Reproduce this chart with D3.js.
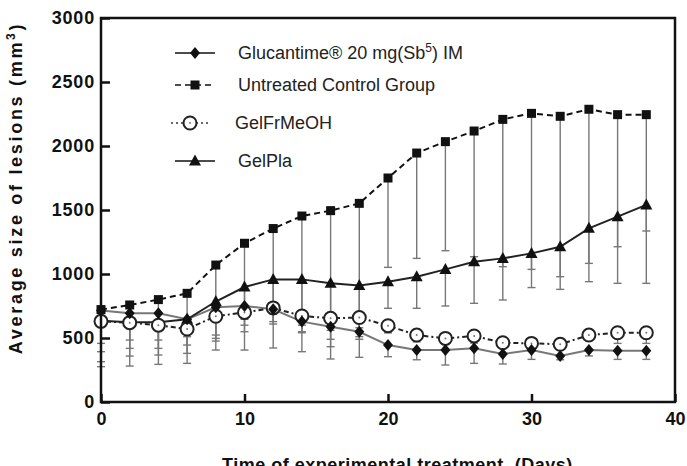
<!DOCTYPE html>
<html>
<head>
<meta charset="utf-8">
<script src="https://cdn.jsdelivr.net/npm/d3@7"></script>
<style>
  body { margin: 0; background: #fff; }
  text { font-family: 'Liberation Sans', Arial, sans-serif; }
</style>
</head>
<body>
<div class="chart-container"></div>
<script>
// days of treatment
const days = [0, 2, 4, 6, 8, 10, 12, 14, 16, 18, 20, 22, 24, 26, 28, 30, 32, 34, 36, 38];

// mean lesion size and lower end of error bar, per group
const glucantime    = [715, 693, 693, 646, 740, 750, 724, 628, 588, 549, 445, 406, 406, 419, 375, 406, 359, 406, 401, 401];
const glucantimeLow = [393, 419, 419, 445, 523, 646, 628, 549, 490, 510, 354, 330, 289, 302, 297, 333, 330, 360, 333, 333];

const control    = [722, 758, 800, 849, 1070, 1240, 1355, 1453, 1495, 1552, 1750, 1945, 2034, 2117, 2208, 2255, 2232, 2287, 2245, 2245];
const controlLow = [276, 281, 294, 302, 406, 406, 422, 393, 336, 349, 1052, 1122, 1182, 1135, 1057, 1036, 979, 1083, 1213, 1336];

const gelFrMeOH    = [630, 620, 600, 570, 670, 700, 735, 672, 654, 660, 596, 523, 497, 516, 463, 458, 451, 523, 541, 541];
const gelFrMeOHLow = [458, 484, 484, 510, 497, 600, 690, 600, 560, 580, 540, 470, 450, 460, 420, 420, 410, 480, 458, 458];

const gelPla    = [635, 623, 623, 646, 785, 898, 958, 958, 927, 910, 940, 979, 1036, 1096, 1122, 1161, 1213, 1357, 1448, 1540];
const gelPlaLow = [315, 359, 367, 380, 476, 549, 609, 541, 432, 490, 732, 732, 750, 771, 797, 894, 880, 940, 927, 927];

const xTicks = [0, 10, 20, 30, 40];
const yTicks = [0, 500, 1000, 1500, 2000, 2500, 3000];

const width = 687, height = 466;
const margin = { top: 18, right: 12, bottom: 64, left: 101 };

const svg = d3.select('.chart-container').append('svg')
    .attr('width', width)
    .attr('height', height);

const x = d3.scaleLinear().domain([0, 40]).range([margin.left, width - margin.right]);
const y = d3.scaleLinear().domain([0, 3000]).range([height - margin.bottom, margin.top]);

const groups = [
    { name: 'glucantime', mean: glucantime, low: glucantimeLow, marker: 'diamond', color: '#777', legendColor: '#111', dash: null },
    { name: 'control', mean: control, low: controlLow, marker: 'square', color: '#111', legendColor: '#111', dash: '6,4' },
    { name: 'gelFrMeOH', mean: gelFrMeOH, low: gelFrMeOHLow, marker: 'circle', color: '#222', legendColor: '#333', dash: '2,3,5,3' },
    { name: 'gelPla', mean: gelPla, low: gelPlaLow, marker: 'triangle', color: '#222', legendColor: '#111', dash: null }
];

// error bars (lower side)
const bars = svg.append('g').attr('stroke', '#777').attr('stroke-width', 1.4);
groups.forEach(g => {
    days.forEach((d, i) => {
        bars.append('line')
            .attr('x1', x(d)).attr('x2', x(d))
            .attr('y1', y(g.mean[i])).attr('y2', y(g.low[i]));
        bars.append('line')
            .attr('x1', x(d) - 4).attr('x2', x(d) + 4)
            .attr('y1', y(g.low[i])).attr('y2', y(g.low[i]));
    });
});

// lines
const line = d3.line().x((d, i) => x(days[i])).y(d => y(d));
groups.forEach(g => {
    svg.append('path')
        .datum(g.mean)
        .attr('fill', 'none')
        .attr('stroke', g.color)
        .attr('stroke-width', 2)
        .attr('stroke-dasharray', g.dash)
        .attr('d', line);
});

function drawMarker(sel, type, cx, cy) {
    if (type === 'diamond') {
        sel.append('path').attr('d', `M${cx},${cy - 6}L${cx + 5},${cy}L${cx},${cy + 6}L${cx - 5},${cy}Z`).attr('fill', '#111');
    } else if (type === 'square') {
        sel.append('rect').attr('x', cx - 4.5).attr('y', cy - 4.5).attr('width', 9).attr('height', 9).attr('fill', '#111');
    } else if (type === 'triangle') {
        sel.append('path').attr('d', `M${cx},${cy - 6.5}L${cx + 6},${cy + 4.5}L${cx - 6},${cy + 4.5}Z`).attr('fill', '#111');
    } else {
        sel.append('circle').attr('cx', cx).attr('cy', cy).attr('r', 6.5)
            .attr('fill', '#fff').attr('stroke', '#222').attr('stroke-width', 2);
        sel.append('circle').attr('cx', cx).attr('cy', cy).attr('r', 1).attr('fill', '#777');
    }
}

// markers, circles drawn under the diamonds like the original
const markerOrder = [groups[1], groups[3], groups[2], groups[0]];
markerOrder.forEach(g => {
    const gm = svg.append('g');
    days.forEach((d, i) => drawMarker(gm, g.marker, x(d), y(g.mean[i])));
});

// axes with inward ticks
const xAxis = d3.axisBottom(x).tickValues(xTicks).tickFormat(d3.format('d')).tickSizeInner(-8).tickSizeOuter(0).tickPadding(10);
const yAxis = d3.axisLeft(y).tickValues(yTicks).tickFormat(d3.format('d')).tickSizeInner(-9).tickSizeOuter(0).tickPadding(6);

const gx = svg.append('g').attr('transform', `translate(0,${height - margin.bottom})`).call(xAxis);
const gy = svg.append('g').attr('transform', `translate(${margin.left},0)`).call(yAxis);
[gx, gy].forEach(g => {
    g.select('.domain').remove();
    g.selectAll('.tick line').attr('stroke', '#111').attr('stroke-width', 2.5);
    g.selectAll('.tick text')
        .attr('fill', '#111')
        .attr('font-size', 18)
        .attr('font-weight', 'bold')
        .style('font-family', "'Liberation Sans', Arial, sans-serif");
});
gy.selectAll('.tick text').attr('letter-spacing', 0.8);

// frame
svg.append('rect')
    .attr('x', x(0)).attr('y', y(3000))
    .attr('width', x(40) - x(0)).attr('height', y(0) - y(3000))
    .attr('fill', 'none').attr('stroke', '#111').attr('stroke-width', 2.5);

// axis titles
const yTitle = svg.append('text')
    .attr('transform', `translate(22,${(y(0) + y(3000)) / 2 - 22}) rotate(-90)`)
    .attr('text-anchor', 'middle')
    .attr('font-size', 18).attr('font-weight', 'bold')
    .attr('letter-spacing', 2.7)
    .attr('fill', '#111');
yTitle.append('tspan').text('Average size of lesions (mm');
yTitle.append('tspan').text('3').attr('font-size', 12).attr('baseline-shift', 'super');
yTitle.append('tspan').text(')');

svg.append('text')
    .attr('x', 222).attr('y', 471)
    .attr('font-size', 18).attr('font-weight', 'bold')
    .attr('letter-spacing', 0.5)
    .attr('fill', '#111')
    .attr('xml:space', 'preserve')
    .text('Time of experimental treatment  (Days)');

// legend
const legendRows = [53, 85, 123, 161];
const legendTextX = [238, 238, 235, 238];
const legendLineX = [[175, 215], [175, 215], [171, 208], [175, 215]];
const legendMarkerX = [195, 195, 190, 195];

groups.forEach((g, i) => {
    const ly = legendRows[i];
    svg.append('line')
        .attr('x1', legendLineX[i][0]).attr('x2', legendLineX[i][1])
        .attr('y1', ly).attr('y2', ly)
        .attr('stroke', g.legendColor).attr('stroke-width', 1.6)
        .attr('stroke-dasharray', g.name === 'gelFrMeOH' ? '2,3' : g.dash);
    drawMarker(svg.append('g'), g.marker, legendMarkerX[i], ly);
});

const legendText = svg.append('g').attr('font-size', 18).attr('fill', '#222');
const t0 = legendText.append('text').attr('x', legendTextX[0]).attr('y', legendRows[0] + 6);
t0.append('tspan').text('Glucantime® 20 mg(Sb');
t0.append('tspan').text('5').attr('font-size', 12).attr('baseline-shift', 'super');
t0.append('tspan').text(') IM');
legendText.append('text').attr('x', legendTextX[1]).attr('y', legendRows[1] + 6).text('Untreated Control Group');
legendText.append('text').attr('x', legendTextX[2]).attr('y', legendRows[2] + 6).text('GelFrMeOH');
legendText.append('text').attr('x', legendTextX[3]).attr('y', legendRows[3] + 6).text('GelPla');
</script>
</body>
</html>
